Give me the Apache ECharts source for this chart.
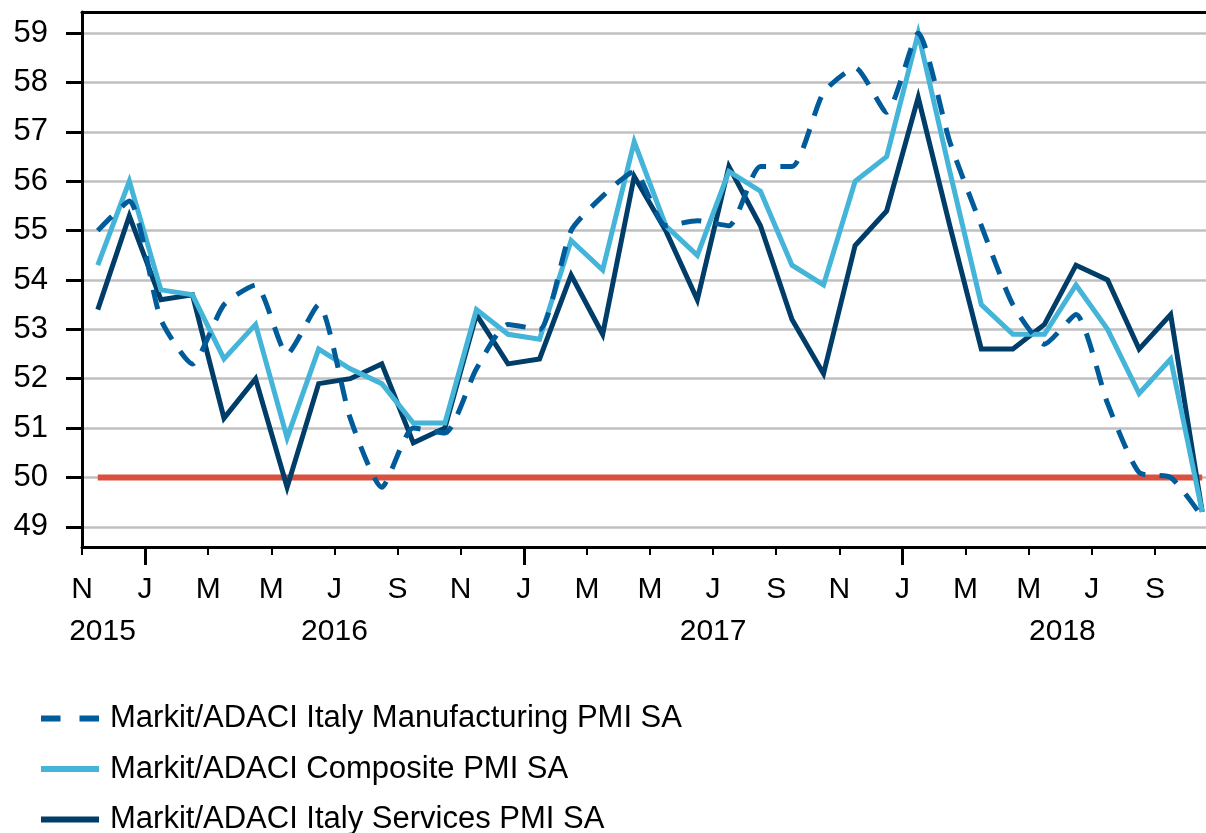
<!DOCTYPE html>
<html><head><meta charset="utf-8">
<script src="https://cdn.jsdelivr.net/npm/echarts@6/dist/echarts.min.js"></script>
<style>html,body{margin:0;padding:0;background:#fff}#c{width:1206px;height:833px}</style>
</head><body><div id="c"></div>
<script>
// Monthly observations, Nov 2015 .. Oct 2018
const months = ['2015-11','2015-12','2016-01','2016-02','2016-03','2016-04','2016-05','2016-06','2016-07','2016-08','2016-09','2016-10',
  '2016-11','2016-12','2017-01','2017-02','2017-03','2017-04','2017-05','2017-06','2017-07','2017-08','2017-09','2017-10',
  '2017-11','2017-12','2018-01','2018-02','2018-03','2018-04','2018-05','2018-06','2018-07','2018-08','2018-09','2018-10'];
const manufacturing = [55.0,55.6,53.2,52.3,53.5,53.9,52.5,53.5,51.2,49.8,51.0,50.9,
  52.2,53.1,53.0,55.0,55.7,56.2,55.1,55.2,55.1,56.3,56.3,57.8,
  58.3,57.4,59.0,56.8,55.1,53.5,52.7,53.3,51.5,50.1,50.0,49.2];
const composite = [54.3,56.0,53.8,53.7,52.4,53.1,50.8,52.6,52.2,51.9,51.1,51.1,
  53.4,52.9,52.8,54.8,54.2,56.8,55.1,54.5,56.2,55.8,54.3,53.9,
  56.0,56.5,59.0,56.2,53.5,52.9,52.9,53.9,53.0,51.7,52.4,49.3];
const services = [53.4,55.3,53.6,53.7,51.2,52.0,49.8,51.9,52.0,52.3,50.7,51.0,
  53.3,52.3,52.4,54.1,52.9,56.1,55.0,53.6,56.3,55.1,53.2,52.1,
  54.7,55.4,57.7,55.1,52.6,52.6,53.1,54.3,54.0,52.6,53.3,49.3];
const threshold = 50;
const monthTickLabels = ['N','J','M','M','J','S','N','J','M','M','J','S','N','J','M','M','J','S'];
const yearLabels = ['2015','2016','2017','2018'];
const yTickValues = [49,50,51,52,53,54,55,56,57,58,59];
const seriesNames = ['Markit/ADACI Italy Manufacturing PMI SA','Markit/ADACI Composite PMI SA','Markit/ADACI Italy Services PMI SA'];

const FONT = "'Liberation Sans', Arial, sans-serif";
const X_MAX = 35.62;
const monthTickPos = monthTickLabels.map((_, k) => 2 * k);
const janPos = [2, 14, 26];
const yearPos = [0.65, 8, 20, 31.07];
const pts = arr => arr.map((v, i) => [i + 0.5, v]);

const chart = echarts.init(document.getElementById('c'), null, {renderer: 'canvas'});
const baseX = {type: 'value', min: 0, max: X_MAX, splitLine: {show: false}};
chart.setOption({
  animation: false,
  backgroundColor: '#fff',
  grid: {left: 82, right: 0, top: 12, bottom: 286, containLabel: false},
  xAxis: [
    Object.assign({}, baseX, {
      position: 'bottom',
      axisLine: {show: true, lineStyle: {color: '#000', width: 3}},
      axisTick: {show: true, length: 8, lineStyle: {color: '#000', width: 2}, customValues: monthTickPos},
      axisLabel: {show: true, customValues: monthTickPos, margin: 28, color: '#000', fontSize: 30, fontFamily: FONT,
        formatter: v => monthTickLabels[Math.round(v / 2)] || ''}
    }),
    Object.assign({}, baseX, {
      position: 'bottom',
      axisLine: {show: false},
      axisTick: {show: true, length: 18, lineStyle: {color: '#000', width: 3}, customValues: janPos},
      axisLabel: {show: true, customValues: yearPos, margin: 70, color: '#000', fontSize: 30, fontFamily: FONT,
        formatter: v => { const k = yearPos.findIndex(p => Math.abs(p - v) < 1e-6); return k >= 0 ? yearLabels[k] : ''; }}
    }),
    Object.assign({}, baseX, {
      position: 'top',
      axisLine: {show: true, lineStyle: {color: '#000', width: 3}},
      axisTick: {show: false}, axisLabel: {show: false}
    })
  ],
  yAxis: {
    type: 'value', min: 48.59, max: 59.43,
    axisLine: {show: true, lineStyle: {color: '#000', width: 3}},
    axisTick: {show: true, length: 16, lineStyle: {color: '#000', width: 3}, customValues: yTickValues},
    axisLabel: {customValues: yTickValues, margin: 34, color: '#000', fontSize: 31, fontFamily: FONT},
    splitLine: {show: true, lineStyle: {color: '#c0c0c0', width: 2.5}}
  },
  legend: {
    orient: 'vertical', left: 38, top: 703, height: 200, padding: 0, itemWidth: 58, itemHeight: 14, itemGap: 19.5,
    itemStyle: {opacity: 0},
    textStyle: {color: '#000', fontSize: 31, fontFamily: FONT, lineHeight: 30, padding: [0, 0, 0, 6]},
    data: [
      {name: seriesNames[0], lineStyle: {width: 6, type: [19.5, 19], color: '#005b9a'}},
      {name: seriesNames[1], lineStyle: {width: 6, color: '#44b4d8'}},
      {name: seriesNames[2], lineStyle: {width: 6, color: '#003d68'}}
    ]
  },
  series: [
    {name: 'threshold', type: 'line', symbol: 'none', silent: true, z: 1,
      data: [[0.5, threshold], [months.length - 0.5, threshold]],
      lineStyle: {color: '#d9503e', width: 6, cap: 'butt'}},
    {name: seriesNames[2], type: 'line', symbol: 'none', z: 2, data: pts(services),
      lineStyle: {color: '#003d68', width: 5, join: 'miter'}, itemStyle: {color: '#003d68'}},
    {name: seriesNames[1], type: 'line', symbol: 'none', z: 3, data: pts(composite),
      lineStyle: {color: '#44b4d8', width: 5, join: 'miter'}, itemStyle: {color: '#44b4d8'}},
    {name: seriesNames[0], type: 'line', symbol: 'none', z: 4, data: pts(manufacturing), smooth: 0.2,
      lineStyle: {color: '#005b9a', width: 5, type: [20, 14]}, itemStyle: {color: '#005b9a'}}
  ]
});
</script></body></html>
